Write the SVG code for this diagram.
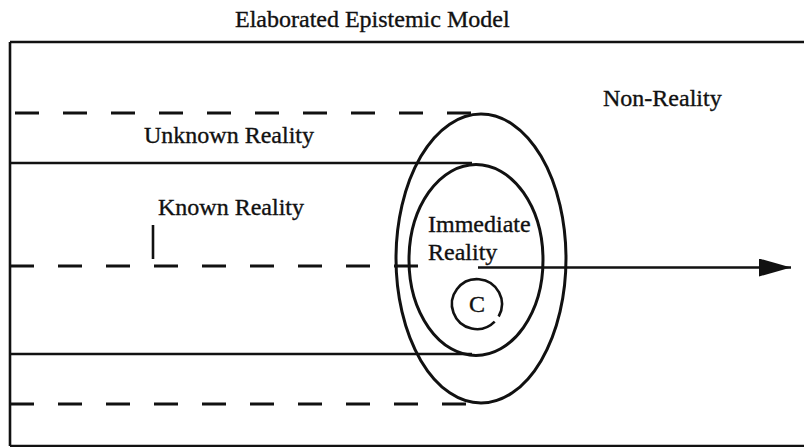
<svg xmlns="http://www.w3.org/2000/svg" width="804" height="447" viewBox="0 0 804 447">
<style>
text{font-family:"Liberation Serif","Times New Roman",Times,serif;font-size:24px;fill:#111;stroke:#111;stroke-width:0.35}
.ln{stroke:#111;stroke-width:2.6;fill:none}
.dash{stroke:#111;stroke-width:3;fill:none;stroke-dasharray:24 24}
.ell{stroke:#111;stroke-width:3;fill:none}
</style>
<defs>
<marker id="ah" markerUnits="userSpaceOnUse" markerWidth="34" markerHeight="20" refX="32" refY="9" orient="auto">
<path d="M0,0 L32,9 L0,18 Z" fill="#111"/>
</marker>
</defs>
<rect width="804" height="447" fill="#fff"/>
<g id="title"><text x="235" y="27" font-family="Liberation Serif, serif">Elaborated Epistemic Model</text></g>
<g id="frame">
<path class="ln" d="M10,42 H804 M10,42 V446 M10,446 H804"/>
</g>
<g id="non-reality"><text x="603" y="106" font-family="Liberation Serif, serif">Non-Reality</text></g>
<g id="unknown-reality">
<path class="dash" d="M15,113 H471"/>
<path class="dash" d="M10,404 H466"/>
<text x="144" y="143" font-family="Liberation Serif, serif">Unknown Reality</text>
</g>
<g id="known-reality">
<path class="ln" d="M10,163 H472"/>
<path class="ln" d="M10,354 H472"/>
<path class="dash" d="M10,266 H420"/>
<path class="ln" stroke-width="2.2" d="M153,225 V259"/>
<text x="158" y="215" font-family="Liberation Serif, serif">Known Reality</text>
</g>
<g id="outer-ellipse"><ellipse class="ell" cx="481" cy="258.5" rx="85" ry="144.5"/></g>
<g id="immediate-reality">
<ellipse class="ell" cx="476" cy="260" rx="67" ry="95.5"/>
<text x="428" y="232" font-family="Liberation Serif, serif">Immediate</text>
<text x="428" y="260" font-family="Liberation Serif, serif">Reality</text>
</g>
<g id="c-node">
<path class="ln" stroke-width="2.8" d="M494.7,321.7 A25,25 0 1 1 498.65,316.5"/>
<text x="477" y="312" text-anchor="middle" font-family="Liberation Serif, serif">C</text>
</g>
<g id="connectors">
<path class="ln" stroke-width="3" d="M478,267.5 H791" marker-end="url(#ah)"/>
</g>
</svg>
